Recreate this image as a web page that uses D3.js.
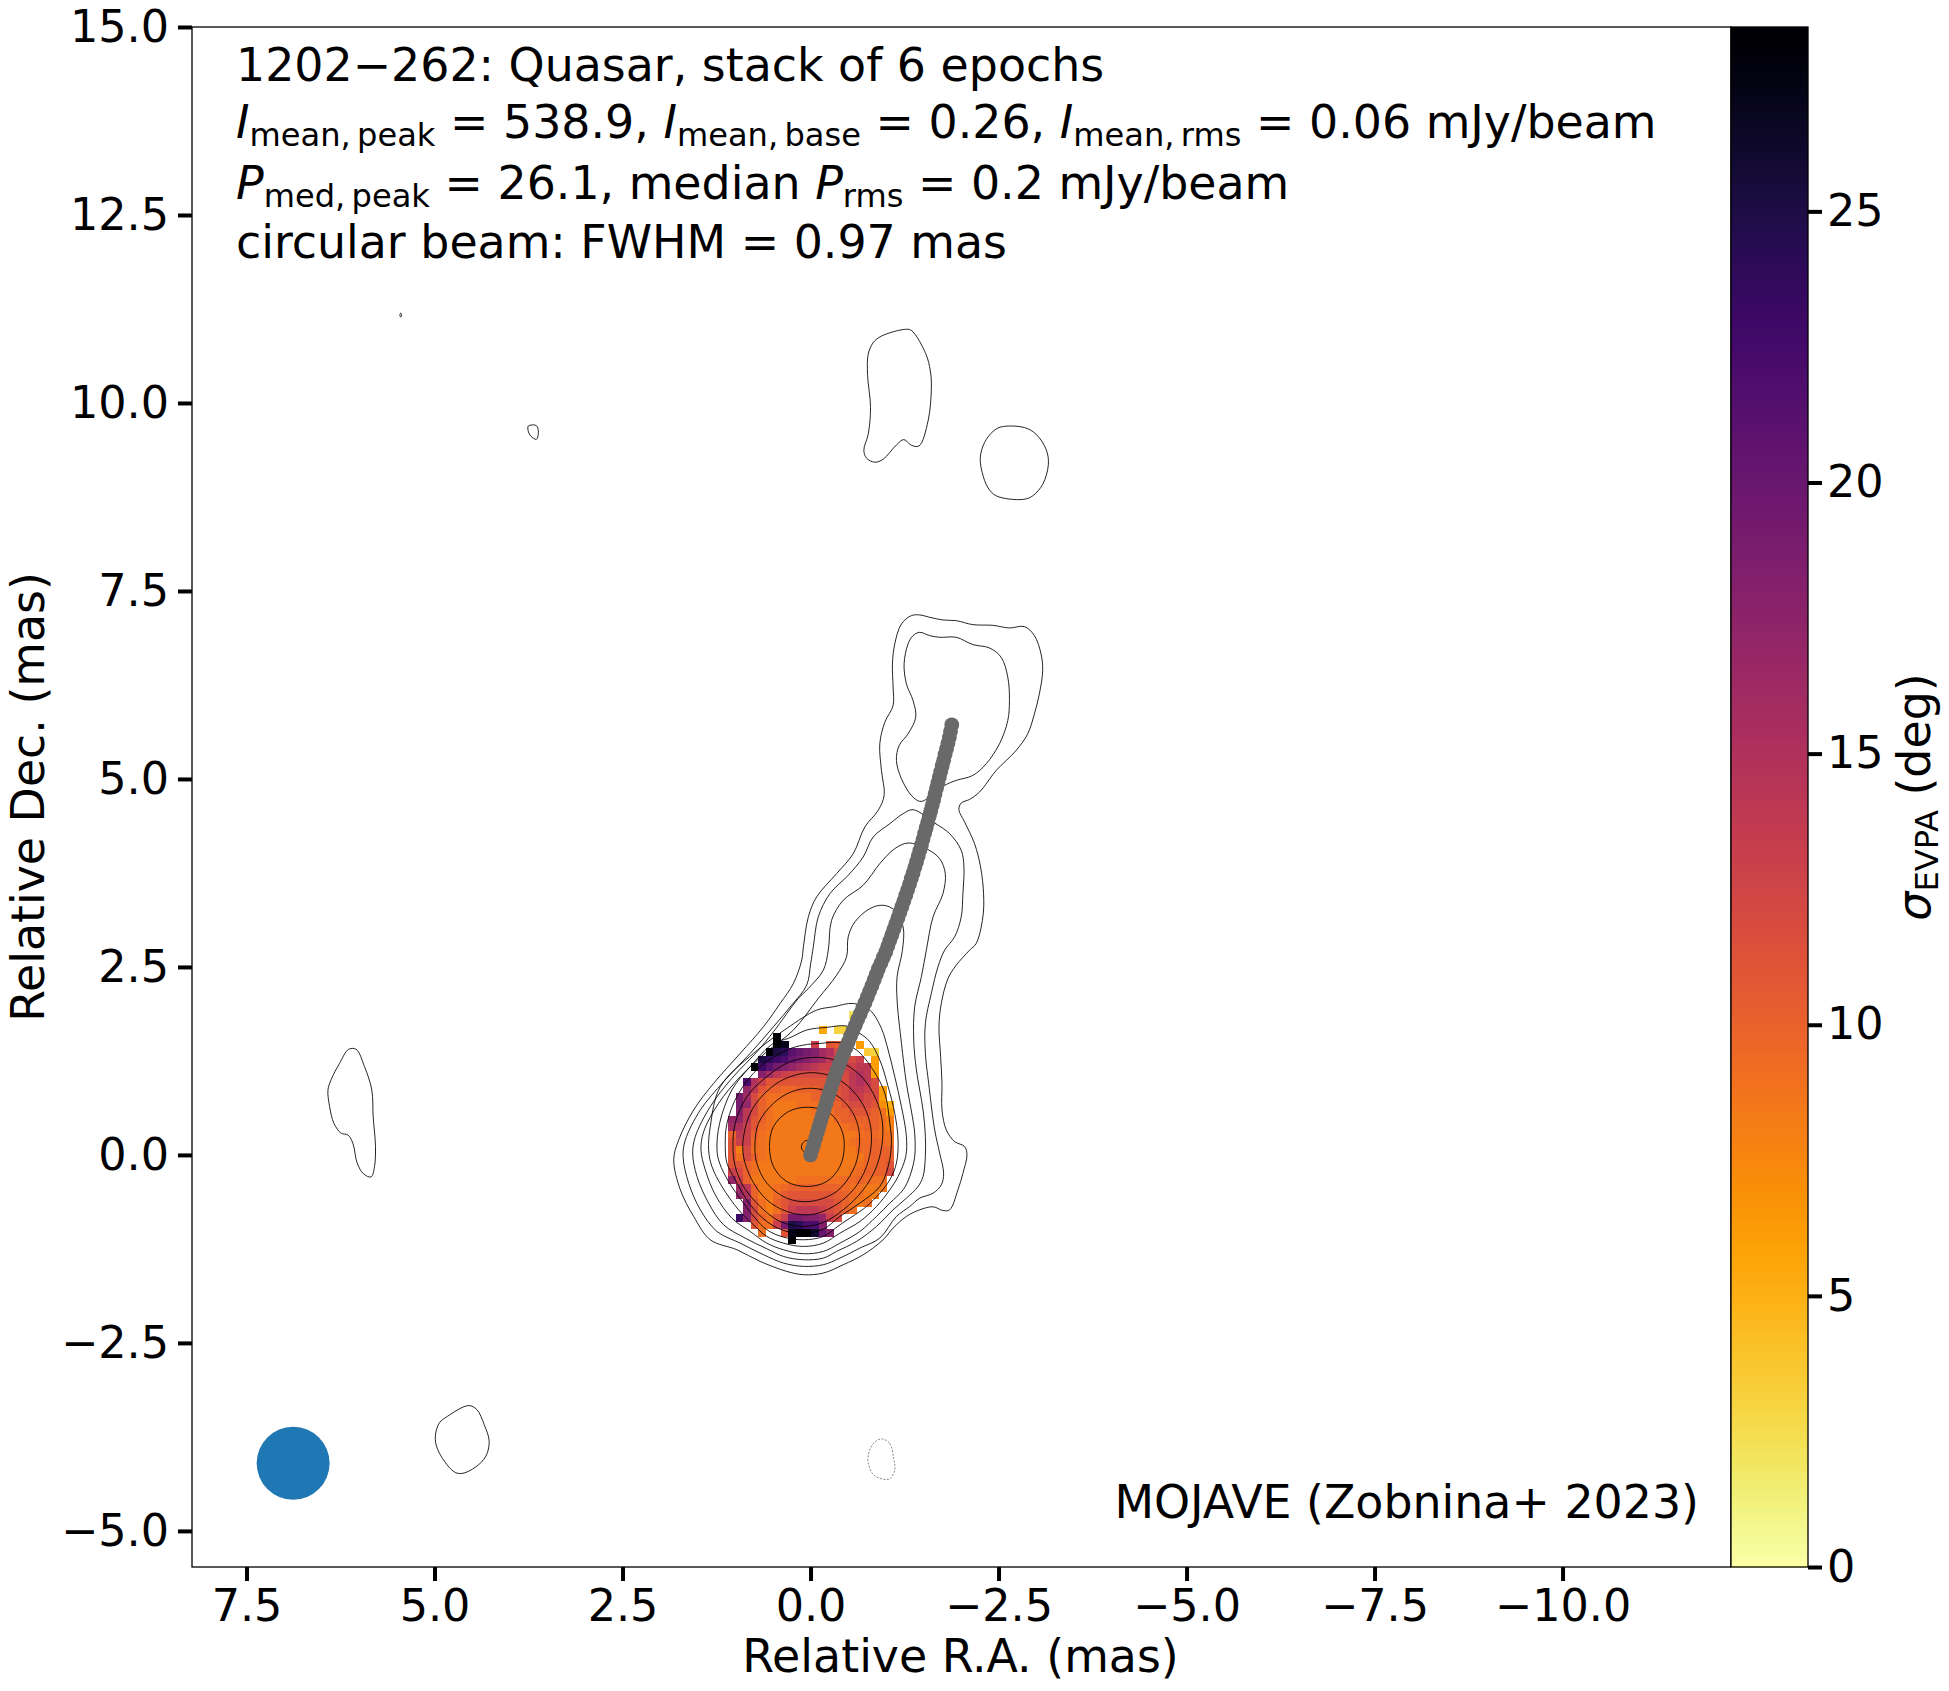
<!DOCTYPE html>
<html>
<head>
<meta charset="utf-8">
<title>1202-262</title>
<script src="https://cdnjs.cloudflare.com/ajax/libs/d3/7.8.5/d3.min.js"></script>
<style>
  body { margin: 0; background: #fff; }
  svg { display: block; }
  text { font-family: "DejaVu Sans", sans-serif; fill: #000; }
</style>
</head>
<body>
<script>
// axis ticks
var raTicks = [7.5, 5, 2.5, 0, -2.5, -5, -7.5, -10];
var decTicks = [15, 12.5, 10, 7.5, 5, 2.5, 0, -2.5, -5];
var sigmaTicks = [0, 5, 10, 15, 20, 25];

// beam, mas
var beamCentre = [6.88, -4.1];
var beamFwhm = 0.97;

// ridge line, mas
var ridgeRa = [0, -.022, -.045, -.068, -.09, -.112, -.135, -.158, -.18, -.203, -.226, -.25, -.274, -.3, -.326, -.353, -.381, -.41, -.44, -.47, -.5, -.531, -.563, -.595, -.627, -.66, -.692, -.724, -.755, -.786, -.816, -.845, -.874, -.902, -.935, -.968, -1.0, -1.027, -1.054, -1.081, -1.108, -1.135, -1.162, -1.188, -1.214, -1.24, -1.266, -1.291, -1.316, -1.34, -1.364, -1.387, -1.41, -1.432, -1.454, -1.475, -1.496, -1.517, -1.538, -1.558, -1.578, -1.598, -1.618, -1.637, -1.656, -1.675, -1.694, -1.713, -1.732, -1.751, -1.77, -1.789, -1.808, -1.827, -1.846, -1.862, -1.878];
var ridgeDec = [0, .075, .15, .225, .3, .375, .45, .525, .6, .675, .75, .825, .9, .975, 1.05, 1.125, 1.2, 1.275, 1.35, 1.425, 1.5, 1.575, 1.65, 1.725, 1.8, 1.875, 1.95, 2.025, 2.1, 2.175, 2.25, 2.325, 2.4, 2.475, 2.55, 2.625, 2.7, 2.775, 2.85, 2.925, 3.0, 3.075, 3.15, 3.225, 3.3, 3.375, 3.45, 3.525, 3.6, 3.675, 3.75, 3.825, 3.9, 3.975, 4.05, 4.125, 4.2, 4.275, 4.35, 4.425, 4.5, 4.575, 4.65, 4.725, 4.8, 4.875, 4.95, 5.025, 5.1, 5.175, 5.25, 5.325, 5.4, 5.475, 5.55, 5.635, 5.72];

// sigma EVPA map, deg, one row per 0.1 mas of Dec, top row first.
// sigmaFirstCol = column of each row's first value, column 0 is the eastmost
var gridRa0 = 1.044, gridDec0 = 1.87, gridStep = 0.1;
var n = null;
var sigmaFirstCol = [16, 0, 12, 6, 6, 5, 4, 3, 4, 2, 2, 1, 1, 1, 0, 0, 0, 0, 0, 0, 0, 0, 0, 1, 1, 2, 2, 1, 3, 4, 8];
var sigmaRows = [
  [2],
  [],
  [5.5, n, 3, 3],
  [29],
  [29, 27, n, n, n, 13, n, 11, 10.5, 10, n, 6],
  [28, 25, 24, 21, 20, 19, 18, 16, 15, 12, 11.5, n, n, 3.5, 3],
  [25, 24, 23, 22, 20, 19, 18, 17, 16, 14, 13, 12, 12, 13, n, 6],
  [28, 23, 21, 19, 18, 17, 16, 15, 14, 13, 13, 13, 13, 13, 14, 14, 6],
  [18, 16, 14, 13, 12.5, 12, 12, 12, 12, 12, 12, 12, 14, 15, 14, 6],
  [22, 15, 13, 11, 11, 11, 11, 11, 11, 11, 11, 11, 12, 12, 14, 15, 14, 12],
  [17, 14, 11, 10, 10, 9.5, 9.5, 10, 10, 10, 11, 11, 11, 12, 14, 14, 13, 12, 6],
  [19, 16, 12, 10, 9, 9, 9, 9, 9, 9, 10, 10, 10, 11, 12, 13, 13, 12, 12, 6],
  [19, 17, 12, 10, 9, 8.5, 8.5, 8.5, 9, 9, 9, 9, 10, 10, 11, 12, 12, 12, 11, 7, 5],
  [18, 14, 12, 10, 9, 8.5, 8.5, 8.5, 8.5, 8.5, 9, 9, 9, 10, 10, 11, 11, 11, 10, 9, 6],
  [17, 17, 14, 11, 10, 9, 8.5, 8.5, 8.5, 8.5, 8.5, 8.5, 8.5, 8.5, 9.5, 10, 10, 10, 10, 10, 9, 8],
  [16, 15, 13, 11, 9.5, 9, 8.5, 8.5, 8.5, 8.5, 8.5, 8.5, 8.5, 8.5, 8.5, 9, 9.5, 9.5, 10, 10, 9, 8],
  [10, 14, 13, 10, 9, 8.5, 8.5, 8.5, 8.5, 8.5, 8.5, 8.5, 8.5, 8.5, 8.5, 8.5, 8.5, 9, 9.5, 9.5, 9, 9],
  [11, 13, 13, 9.5, 9, 8.5, 8.5, 8.5, 8.5, 8.5, 8.5, 8.5, 8.5, 8.5, 8.5, 8.5, 9, 9.5, 9.5, 10, 9.5, 9],
  [11, 8, 12, 9, 9, 8.5, 8.5, 8.5, 8.5, 8.5, 8.5, 8.5, 8.5, 8.5, 8.5, 8.5, 8.5, 9.5, 9.5, 10, 10, 10],
  [11, 9, 12, 10, 9, 8.5, 8.5, 8.5, 8.5, 8.5, 8.5, 8.5, 8.5, 8.5, 8.5, 8.5, 8.5, 8.5, 9.5, 10, 10, 10],
  [11, 11, 10, 9, 8.5, 8.5, 8.5, 8.5, 8.5, 8.5, 8.5, 8.5, 8.5, 8.5, 8.5, 8.5, 8.5, 9, 9.5, 10, 10, 11],
  [13, 12, 10, 9, 8.5, 8.5, 8.5, 8.5, 8.5, 8.5, 8.5, 8.5, 8.5, 8.5, 8.5, 8.5, 9, 9.5, 10, 10, 10, 12],
  [17, 13, 10, 8.5, 8.5, 8.5, 8.5, 8.5, 8.5, 9, 9, 9, 9, 9, 9, 9.5, 9.5, 10, 9.5, 9, 9],
  [16, 14, 10, 8.5, 8.5, 9, 9.5, 10, 10, 10, 10, 10, 10, 10, 9.5, 9, 9, 8.5, 8.5, 8.5],
  [17, 15, 10, 8.5, 8.5, 9.5, 10.5, 11, 11, 11, 11, 11, 11, 10.5, 10, 9.5, 9, 8.5, 8],
  [18, 11, 9, 8, 10, 11, 12, 12, 12, 12, 12, 12, 11, 10, 9, 8.5, 9],
  [18, 12, 9, 8, 9, 11, 13, 14, 14, 14, 13, 12, 11, 10, 9],
  [23, 18, 12, 10, 9, 11, 13, 19, 19, 18, 18, 17, 13, 12],
  [11, 9, 9, 13, 19, 25, 24, 22, 22, 18],
  [9, n, n, 11, 27, 29, 29, 26, 20, 18],
  [29]
];

// total intensity contours, [RA, Dec] in mas
var contourMain = [
  [[-1.419,7.194],[-1.551,7.163],[-1.728,7.127],[-1.905,7.118],[-2.126,7.065],[-2.391,7.056],[-2.612,7.021],[-2.811,7.039],[-2.944,6.919],[-3.032,6.676],[-3.054,6.454],[-3.01,6.145],[-2.944,5.879],[-2.855,5.613],[-2.701,5.392],[-2.436,5.126],[-2.214,4.839],[-2.082,4.741],[-1.971,4.693],[-1.94,4.604],[-2.016,4.44],[-2.148,4.153],[-2.228,3.843],[-2.268,3.488],[-2.259,3.179],[-2.17,2.825],[-2.082,2.736],[-1.905,2.537],[-1.795,2.36],[-1.706,2.028],[-1.675,1.718],[-1.697,1.319],[-1.715,.965],[-1.715,.611],[-1.772,.346],[-1.883,.191],[-2.016,.124],[-2.047,.014],[-1.994,-.23],[-1.927,-.451],[-1.817,-.717],[-1.728,-.726],[-1.596,-.677],[-1.419,-.717],[-1.242,-.805],[-1.065,-.96],[-.932,-1.115],[-.668,-1.314],[-.402,-1.447],[-.137,-1.558],[.128,-1.58],[.349,-1.536],[.703,-1.403],[1.012,-1.248],[1.366,-1.115],[1.587,-.805],[1.764,-.451],[1.852,-.053],[1.786,.213],[1.587,.611],[1.322,.965],[.968,1.364],[.659,1.718],[.437,2.028],[.261,2.293],[.15,2.603],[.128,2.78],[.062,3.179],[-.048,3.444],[-.314,3.754],[-.535,4.02],[-.689,4.374],[-.866,4.595],[-.946,4.794],[-.91,5.126],[-.888,5.481],[-.955,5.768],[-1.065,5.99],[-1.065,6.233],[-1.056,6.543],[-1.087,6.809],[-1.176,7.074],[-1.308,7.185]],
  [[-1.33,4.604],[-1.618,4.427],[-1.817,4.285],[-1.971,4.064],[-2.007,3.843],[-1.993,3.488],[-1.971,3.179],[-1.883,2.913],[-1.75,2.736],[-1.662,2.515],[-1.573,2.16],[-1.494,1.762],[-1.494,1.364],[-1.538,.965],[-1.618,.346],[-1.684,.036],[-1.737,-.23],[-1.706,-.385],[-1.596,-.496],[-1.419,-.562],[-1.286,-.673],[-1.109,-.805],[-.888,-1.093],[-.623,-1.226],[-.358,-1.359],[-.137,-1.447],[.128,-1.469],[.393,-1.425],[.659,-1.314],[.968,-1.16],[1.277,-1.005],[1.498,-.717],[1.653,-.363],[1.728,-.009],[1.697,.213],[1.498,.611],[1.189,.987],[.835,1.364],[.526,1.718],[.283,2.006],[.084,2.271],[.031,2.559],[-.004,2.78],[-.07,3.179],[-.225,3.488],[-.468,3.732],[-.667,3.975],[-.8,4.241],[-1.021,4.418],[-1.198,4.551]],
  [[-1.264,4.161],[-1.507,4.086],[-1.684,3.953],[-1.759,3.754],[-1.728,3.488],[-1.596,3.179],[-1.507,2.736],[-1.441,2.382],[-1.352,1.983],[-1.339,1.541],[-1.375,1.142],[-1.463,.611],[-1.494,.257],[-1.494,-.009],[-1.463,-.274],[-1.397,-.407],[-1.242,-.562],[-1.065,-.717],[-.844,-.938],[-.579,-1.137],[-.314,-1.27],[-.137,-1.359],[.128,-1.381],[.393,-1.337],[.614,-1.235],[.902,-1.093],[1.189,-.916],[1.388,-.628],[1.543,-.274],[1.6,.036],[1.565,.257],[1.366,.656],[1.079,1.032],[.725,1.408],[.526,1.651],[.195,2.094],[.062,2.227],[-.137,2.47],[-.203,2.736],[-.247,3.134],[-.402,3.4],[-.667,3.599],[-.888,3.887],[-1.087,4.086]],
  [[-.932,3.333],[-1.087,3.267],[-1.198,3.046],[-1.189,2.736],[-1.118,2.382],[-1.118,2.072],[-1.176,1.497],[-1.242,.965],[-1.321,.523],[-1.352,.301],[-1.352,-.009],[-1.286,-.274],[-1.198,-.451],[-1.021,-.628],[-.844,-.805],[-.623,-1.005],[-.358,-1.16],[-.137,-1.27],[.128,-1.301],[.393,-1.248],[.614,-1.16],[.835,-1.005],[1.079,-.828],[1.299,-.518],[1.432,-.186],[1.49,.08],[1.454,.323],[1.255,.7],[.968,1.054],[.614,1.386],[.261,1.674],[-.07,2.094],[-.314,2.404],[-.446,2.647],[-.468,2.913],[-.557,3.112],[-.756,3.289]],
  [[-.535,2.028],[-.712,1.961],[-.78,1.917],[-.91,1.696],[-.999,1.408],[-1.087,1.054],[-1.176,.655],[-1.242,.257],[-1.233,-.009],[-1.131,-.274],[-1.021,-.451],[-.844,-.673],[-.623,-.872],[-.358,-1.027],[-.137,-1.16],[.128,-1.204],[.393,-1.16],[.614,-1.071],[.791,-.916],[.99,-.717],[1.211,-.407],[1.344,-.142],[1.388,.08],[1.366,.39],[1.233,.921],[.791,1.364],[.349,1.696],[-.049,1.939],[-.27,1.983]],
  [[-.756,1.519],[-.888,1.275],[-.999,.921],[-1.087,.567],[-1.131,.213],[-1.109,-.097],[-1.021,-.318],[-.888,-.496],[-.711,-.673],[-.623,-.739],[-.358,-.916],[-.137,-1.071],[.128,-1.115],[.393,-1.08],[.614,-.982],[.769,-.828],[.924,-.628],[1.123,-.341],[1.242,-.097],[1.277,.08],[1.242,.434],[1.079,.877],[.835,1.187],[.526,1.497],[.327,1.563],[.084,1.674],[-.181,1.709],[-.447,1.727],[-.623,1.629]],
  [[-.093,1.496],[-.358,1.505],[-.579,1.408],[-.8,1.142],[-.955,.833],[-1.021,.434],[-1.043,.168],[-.999,-.141],[-.888,-.407],[-.623,-.628],[-.358,-.805],[-.137,-.974],[.128,-1.027],[.393,-.991],[.614,-.872],[.835,-.65],[1.034,-.318],[1.144,-.097],[1.167,.124],[1.144,.434],[.99,.832],[.703,1.187],[.349,1.408],[.128,1.474]],
  [[-.049,1.311],[-.358,1.253],[-.623,1.076],[-.8,.832],[-.911,.523],[-.924,.213],[-.845,-.141],[-.668,-.451],[-.402,-.717],[-.137,-.885],[.128,-.938],[.438,-.872],[.703,-.673],[.924,-.407],[1.034,-.141],[1.065,.124],[1.034,.434],[.88,.788],[.614,1.054],[.305,1.253]],
  [[-.005,1.107],[-.314,1.032],[-.579,.81],[-.734,.523],[-.778,.213],[-.712,-.141],[-.535,-.451],[-.27,-.673],[.04,-.783],[.349,-.739],[.614,-.584],[.813,-.319],[.924,-.009],[.924,.257],[.813,.611],[.57,.899],[.305,1.054]],
  [[.017,.899],[-.27,.832],[-.491,.633],[-.601,.39],[-.615,.124],[-.535,-.186],[-.314,-.473],[.04,-.606],[.349,-.562],[.614,-.363],[.747,-.097],[.773,.124],[.725,.434],[.526,.7],[.283,.855]],
  [[.062,.647],[-.226,.567],[-.38,.346],[-.416,.124],[-.358,-.141],[-.182,-.341],[.084,-.407],[.349,-.341],[.526,-.141],[.579,.124],[.526,.39],[.327,.589]],
  [[.097,.204],[.15,.146],[.15,.093],[.119,.058],[.04,.08],[.017,.19]]
];
var contourIslands = [
  [[-1.419,6.963],[-1.551,6.919],[-1.684,6.897],[-1.905,6.897],[-2.126,6.8],[-2.347,6.755],[-2.502,6.631],[-2.59,6.366],[-2.612,6.056],[-2.59,5.79],[-2.48,5.481],[-2.303,5.215],[-2.126,5.06],[-1.905,4.994],[-1.75,4.927],[-1.507,4.741],[-1.419,4.715],[-1.308,4.794],[-1.176,5.016],[-1.109,5.259],[-1.145,5.458],[-1.264,5.613],[-1.366,5.835],[-1.33,6.056],[-1.242,6.277],[-1.211,6.543],[-1.264,6.809],[-1.33,6.919]],
  [[6.176,1.417],[6.075,1.417],[5.964,1.187],[5.867,.877],[5.849,.523],[5.818,.124],[5.831,-.141],[5.876,-.279],[5.977,-.239],[6.061,-.097],[6.119,.168],[6.185,.279],[6.274,.301],[6.371,.434],[6.428,.655],[6.45,.877],[6.406,1.018],[6.296,1.231]],
  [[-.911,10.903],[-1.22,10.992],[-1.308,10.978],[-1.499,10.669],[-1.56,10.438],[-1.574,10.217],[-1.53,9.774],[-1.41,9.442],[-1.308,9.451],[-1.207,9.526],[-1.11,9.456],[-.933,9.265],[-.822,9.225],[-.712,9.279],[-.676,9.385],[-.734,9.597],[-.765,9.951],[-.725,10.394],[-.734,10.66],[-.8,10.815]],
  [[-2.502,9.695],[-2.812,9.686],[-2.966,9.597],[-3.099,9.398],[-3.13,9.199],[-3.055,8.933],[-2.922,8.778],[-2.79,8.73],[-2.436,8.778],[-2.325,8.889],[-2.25,9.088],[-2.224,9.287],[-2.281,9.487],[-2.392,9.633]],
  [[3.785,9.707],[3.678,9.712],[3.652,9.619],[3.678,9.53],[3.754,9.574],[3.789,9.65]],
  [[5.482,11.208],[5.47,11.18],[5.482,11.155],[5.494,11.18]],
  [[4.58,-3.32],[4.47,-3.374],[4.373,-3.573],[4.306,-3.794],[4.35,-3.993],[4.483,-4.135],[4.673,-4.224],[4.784,-4.193],[4.991,-3.905],[5.022,-3.728],[4.969,-3.551],[4.859,-3.462]]
];
var contourNegative = [[-.911,-3.763],[-1.021,-3.825],[-1.074,-4.037],[-1.088,-4.17],[-1.021,-4.294],[-.911,-4.294],[-.8,-4.236],[-.734,-4.081],[-.747,-3.927],[-.822,-3.807]];
// the contour vertices above were read with the origin slightly off
var contourOrigin = [0.033, 0.013];

var width = 1949, height = 1691;
var left = 192, right = 1731, top_ = 27, bottom = 1567;
var cbLeft = 1731, cbRight = 1808;
var fontSize = 45.85;
var tickFontSize = 44.5;

var svg = d3.select("body").append("svg")
  .attr("width", width)
  .attr("height", height)
  .style("font-size", fontSize + "px");

var x = d3.scaleLinear().domain([8.225, -12.24]).range([left, right]);
var y = d3.scaleLinear().domain([-5.48, 15]).range([bottom, top_]);
var sigmaY = d3.scaleLinear().domain([0, 28.4]).range([bottom, top_]);
var color = d3.scaleSequential(d3.interpolateInferno).domain([28.4, 0]);

// map cells
var cells = [];
sigmaRows.forEach(function(row, r) {
  row.forEach(function(v, i) {
    if (v !== null) {
      cells.push({ ra: gridRa0 - gridStep * (sigmaFirstCol[r] + i), dec: gridDec0 - gridStep * r, v: v });
    }
  });
});
var cellW = Math.abs(x(gridStep) - x(0));
var cellH = Math.abs(y(gridStep) - y(0));
svg.append("g").attr("shape-rendering", "crispEdges").selectAll("rect")
  .data(cells)
  .enter().append("rect")
    .attr("x", function(d) { return x(d.ra) - cellW / 2; })
    .attr("y", function(d) { return y(d.dec) - cellH / 2; })
    .attr("width", cellW + 0.5)
    .attr("height", cellH + 0.5)
    .attr("fill", function(d) { return color(d.v); });

// contours
var contourLine = d3.line()
  .x(function(d) { return x(d[0] - contourOrigin[0]); })
  .y(function(d) { return y(d[1] - contourOrigin[1]); })
  .curve(d3.curveCatmullRomClosed.alpha(0.5));

svg.append("g").selectAll("path")
  .data(contourMain.concat(contourIslands))
  .enter().append("path")
    .attr("d", contourLine)
    .attr("fill", "none")
    .attr("stroke", "#000")
    .attr("stroke-opacity", 0.85)
    .attr("stroke-width", 1);

svg.append("path")
  .attr("d", contourLine(contourNegative))
  .attr("fill", "none")
  .attr("stroke", "#000")
  .attr("stroke-opacity", 0.6)
  .attr("stroke-width", 0.8)
  .attr("stroke-dasharray", "2,1.5");

// ridge line
svg.append("g").selectAll("circle")
  .data(ridgeRa)
  .enter().append("circle")
    .attr("cx", function(d) { return x(d); })
    .attr("cy", function(d, i) { return y(ridgeDec[i]); })
    .attr("r", 7.4)
    .attr("fill", "#696969");

// beam
svg.append("circle")
  .attr("cx", x(beamCentre[0]))
  .attr("cy", y(beamCentre[1]))
  .attr("r", Math.abs(x(beamFwhm) - x(0)) / 2)
  .attr("fill", "#1f77b4");

// frame and axes
svg.append("rect")
  .attr("x", left).attr("y", top_)
  .attr("width", right - left).attr("height", bottom - top_)
  .attr("fill", "none").attr("stroke", "#000").attr("stroke-width", 1.3);

function styleAxis(g) {
  g.select(".domain").remove();
  g.selectAll(".tick line").attr("stroke", "#000").attr("stroke-width", 4);
  g.selectAll(".tick text").attr("fill", "#000").style("font-size", tickFontSize + "px")
    .style("font-family", '"DejaVu Sans", sans-serif');
}

svg.append("g")
  .attr("transform", "translate(0," + bottom + ")")
  .call(d3.axisBottom(x).tickValues(raTicks).tickSize(14).tickPadding(8).tickFormat(d3.format(".1f")))
  .call(styleAxis);

svg.append("g")
  .attr("transform", "translate(" + left + ",0)")
  .call(d3.axisLeft(y).tickValues(decTicks).tickSize(14).tickPadding(9).tickFormat(d3.format(".1f")))
  .call(styleAxis);

// colorbar
var cbSteps = d3.range(256);
svg.append("g").attr("shape-rendering", "crispEdges").selectAll("rect")
  .data(cbSteps)
  .enter().append("rect")
    .attr("x", cbLeft)
    .attr("y", function(d) { return sigmaY((d + 1) / 256 * 28.4); })
    .attr("width", cbRight - cbLeft)
    .attr("height", (bottom - top_) / 256 + 1)
    .attr("fill", function(d) { return color((d + 0.5) / 256 * 28.4); });
svg.append("rect")
  .attr("x", cbLeft).attr("y", top_)
  .attr("width", cbRight - cbLeft).attr("height", bottom - top_)
  .attr("fill", "none").attr("stroke", "#000").attr("stroke-width", 1.3);
svg.append("g")
  .attr("transform", "translate(" + cbRight + ",0)")
  .call(d3.axisRight(sigmaY).tickValues(sigmaTicks).tickSize(14).tickPadding(5).tickFormat(d3.format("d")))
  .call(styleAxis);

// mixed text: parts are [string, "i" italic / "s" subscript / ""]
function richText(parent, parts, px, py) {
  var t = parent.append("text").attr("x", px).attr("y", py);
  var shifted = false;
  parts.forEach(function(p) {
    var s = t.append("tspan").text(p[0]);
    var dy = 0;
    if (p[1] === "s" && !shifted) { dy = 8; shifted = true; }
    if (p[1] !== "s" && shifted) { dy = -8; shifted = false; }
    if (dy) s.attr("dy", dy);
    if (p[1] === "i") s.style("font-style", "italic");
    if (p[1] === "s") s.style("font-size", (fontSize * 0.7) + "px");
  });
  return t;
}

richText(svg, [["1202\u2212262: Quasar, stack of 6 epochs", ""]], 236, 81);
richText(svg, [["I", "i"], ["mean,\u2009peak", "s"], [" = 538.9, ", ""], ["I", "i"], ["mean,\u2009base", "s"], [" = 0.26, ", ""], ["I", "i"], ["mean,\u2009rms", "s"], [" = 0.06 mJy/beam", ""]], 236, 138);
richText(svg, [["P", "i"], ["med,\u2009peak", "s"], [" = 26.1, median ", ""], ["P", "i"], ["rms", "s"], [" = 0.2 mJy/beam", ""]], 236, 199);
richText(svg, [["circular beam: FWHM = 0.97 mas", ""]], 236, 258);

svg.append("text").attr("x", 1699).attr("y", 1518).attr("text-anchor", "end")
  .text("MOJAVE (Zobnina+ 2023)");

svg.append("text").attr("x", (left + right) / 2 - 1).attr("y", 1672).attr("text-anchor", "middle")
  .text("Relative R.A. (mas)");

svg.append("text")
  .attr("transform", "translate(44," + (top_ + bottom) / 2 + ") rotate(-90)")
  .attr("text-anchor", "middle")
  .text("Relative Dec. (mas)");

var cbLabel = richText(svg, [["\u03c3", "i"], ["EVPA", "s"], [" (deg)", ""]], 0, 0);
cbLabel.attr("transform", "translate(1930," + (top_ + bottom) / 2 + ") rotate(-90)")
  .attr("text-anchor", "middle");
</script>
</body>
</html>
